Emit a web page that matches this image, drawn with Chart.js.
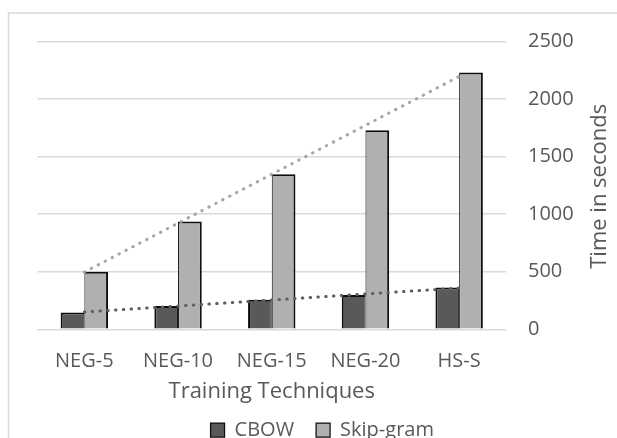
<!DOCTYPE html>
<html>
<head>
<meta charset="utf-8">
<script src="https://cdn.jsdelivr.net/npm/chart.js@4/dist/chart.umd.min.js"></script>
<style>
  html, body { margin: 0; padding: 0; background: #ffffff; }
  #wrap { width: 617px; height: 438px; }
</style>
</head>
<body>
<div id="wrap"><canvas id="c" width="617" height="438"></canvas></div>
<script>
// ---- data ----
const categories = ['NEG-5', 'NEG-10', 'NEG-15', 'NEG-20', 'HS-S'];
const cbowTimes = [145, 203, 256, 297, 363];
const skipgramTimes = [500, 935, 1345, 1727, 2230];
// dotted linear trend lines (end points)
const cbowTrend = [150, null, null, null, 358];
const skipgramTrend = [497, null, null, null, 2195];
const yTickValues = [0, 500, 1000, 1500, 2000, 2500];
const seriesNames = ['CBOW', 'Skip-gram'];
const xTitle = 'Training Techniques';
const yTitle = 'Time in seconds';

const FONT = '"Open Sans", "DejaVu Sans", sans-serif';
const TEXT = '#595959';

const framePlugin = {
  id: 'frame',
  beforeDraw(chart) {
    const c = chart.ctx;
    c.save();
    c.strokeStyle = '#d9d9d9';
    c.lineWidth = 1.5;
    c.strokeRect(8.5, 13, 700, 500);
    c.restore();
  }
};

const yTitlePlugin = {
  id: 'yTitleLeftRead',
  afterDraw(chart) {
    const c = chart.ctx;
    const a = chart.chartArea;
    c.save();
    c.translate(599.5, (a.top + a.bottom) / 2 + 1);
    c.rotate(-Math.PI / 2);
    c.font = '22px ' + FONT;
    c.fillStyle = TEXT;
    c.textAlign = 'center';
    c.textBaseline = 'middle';
    c.fillText(yTitle, 0, 0);
    c.restore();
  }
};

new Chart(document.getElementById('c'), {
  type: 'bar',
  data: {
    labels: categories,
    datasets: [
      {
        label: seriesNames[0],
        data: cbowTimes,
        backgroundColor: '#595959',
        borderColor: '#0d0d0d',
        borderWidth: { top: 2, left: 2, right: 1, bottom: 0 },
        borderSkipped: false,
        order: 2
      },
      {
        label: seriesNames[1],
        data: skipgramTimes,
        backgroundColor: '#b0b0b0',
        borderColor: '#0d0d0d',
        borderWidth: { top: 2, left: 1, right: 2, bottom: 0 },
        borderSkipped: false,
        order: 2
      },
      {
        type: 'line',
        label: 'CBOW trend',
        data: cbowTrend,
        spanGaps: true,
        borderColor: '#5f5f5f',
        borderWidth: 3,
        borderDash: [0.5, 7.3],
        borderCapStyle: 'round',
        pointRadius: 0,
        tension: 0,
        fill: false,
        order: 1
      },
      {
        type: 'line',
        label: 'Skip-gram trend',
        data: skipgramTrend,
        spanGaps: true,
        borderColor: '#a6a6a6',
        borderWidth: 3,
        borderDash: [0.5, 7.3],
        borderCapStyle: 'round',
        pointRadius: 0,
        tension: 0,
        fill: false,
        order: 1
      }
    ]
  },
  options: {
    responsive: false,
    animation: false,
    devicePixelRatio: 1,
    layout: { padding: { left: 37.5, top: 41.3, right: 10, bottom: 0 } },
    datasets: { bar: { categoryPercentage: 0.506, barPercentage: 1.0 } },
    scales: {
      x: {
        grid: { display: false, drawTicks: false },
        border: { display: false },
        ticks: { color: TEXT, font: { family: FONT, size: 20 }, padding: 20 },
        title: {
          display: true, text: xTitle, color: TEXT,
          font: { family: FONT, size: 22 },
          padding: { top: 0, bottom: -7 }
        },
        afterFit(s) { s.height = 68.7; }
      },
      y: {
        position: 'right',
        min: yTickValues[0],
        max: yTickValues[yTickValues.length - 1],
        afterBuildTicks(s) { s.ticks = yTickValues.map(v => ({ value: v })); },
        grid: { color: '#d9d9d9', lineWidth: 1.5, drawTicks: false },
        border: { display: false },
        ticks: {
          color: TEXT, font: { family: FONT, size: 20 }, padding: 22,
          callback: (v) => String(v)
        },
        title: { display: false },
        afterFit(s) { s.width = 101; }
      }
    },
    plugins: {
      tooltip: { enabled: false },
      legend: {
        position: 'bottom',
        maxHeight: 40,
        labels: {
          color: TEXT,
          font: { family: FONT, size: 20 },
          boxWidth: 14,
          boxHeight: 14,
          padding: 22,
          filter: (item) => item.datasetIndex < 2
        }
      }
    }
  },
  plugins: [framePlugin, yTitlePlugin]
});
</script>
</body>
</html>
